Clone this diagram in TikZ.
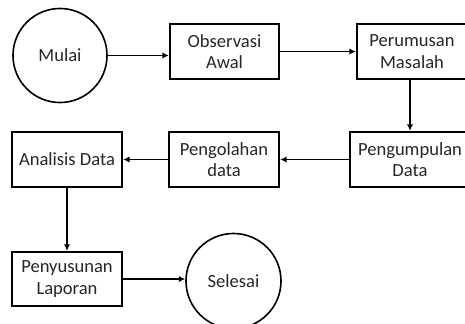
\documentclass[tikz,border=0pt]{standalone}
\usepackage{fontspec}
\setmainfont{Carlito}
\usepackage{tikz}
\usetikzlibrary{arrows.meta,calc,positioning}
\definecolor{teksabu}{RGB}{38,38,38}

\tikzset{
 kotak/.style={draw,line width=1.8pt,minimum width=2.75cm,minimum height=1.375cm,
  align=center,inner sep=2pt,text=teksabu,font=\fontsize{13.2}{15.2}\selectfont},
 bulat/.style={draw,circle,line width=1.15pt,minimum size=2.35cm,inner sep=0pt,
  text=teksabu,font=\fontsize{13.2}{15.2}\selectfont},
 alur/.style={-{Latex[length=4.5pt,width=4.5pt]},line width=1.15pt}
}

\begin{document}
\begin{tikzpicture}[x=0.025cm,y=-0.025cm,line cap=round,line join=miter]
 \useasboundingbox (0,0) rectangle (465,323);
 \clip (0,0) rectangle (465,323);
 % Baris atas.
 \node[bulat] (mulai) at (60,55.5) {Mulai};
 \node[kotak,minimum width=2.725cm] (observasi) at (224.5,51.5) {Observasi\\Awal};
 \node[kotak] (perumusan) at (412,51.5) {Perumusan\\Masalah};
 % Baris tengah.
 \node[kotak,minimum width=3cm] (pengumpulan) at (410,159.5) {Pengumpulan\\Data};
 \node[kotak] (pengolahan) at (224,159.5) {Pengolahan\\data};
 \node[kotak] (analisis) at (67,159.5) {Analisis Data};
 % Baris bawah.
 \node[kotak,minimum height=1.35cm] (penyusunan) at (67,279) {Penyusunan\\Laporan};
 \node[bulat,minimum size=2.375cm] (selesai) at (233.5,281) {Selesai};
 % Panah alur.
 \draw[alur] (mulai.east) -- (mulai.east -| observasi.west);
 \draw[alur] (observasi.east) -- (perumusan.west);
 \draw[alur] (perumusan.south -| pengumpulan.north) -- (pengumpulan.north);
 \draw[alur] (pengumpulan.west) -- (pengolahan.east);
 \draw[alur] (pengolahan.west) -- (analisis.east);
 \draw[alur] (analisis.south) -- (penyusunan.north);
 \draw[alur] (penyusunan.east) -- (penyusunan.east -| selesai.west);
\end{tikzpicture}
\end{document}
